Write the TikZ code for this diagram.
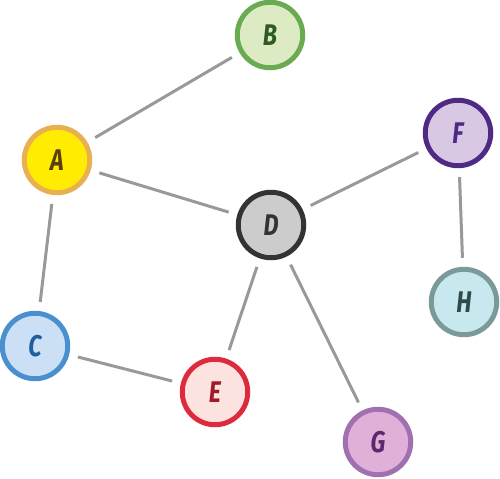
\documentclass[tikz,border=0pt]{standalone}
\usepackage{fontspec}
\newfontfamily\lblfont[FakeStretch=0.78]{Fira Sans}
\definecolor{edgegray}{HTML}{999999}
\begin{document}
\begin{tikzpicture}[x=0.02cm,y=-0.02cm,
  vert/.style={circle,line width=0.1cm,minimum size=1.31cm,inner sep=0pt,
    font=\lblfont\bfseries\itshape\fontsize{17}{17}\selectfont},
  link/.style={draw=edgegray,line width=0.06cm,shorten <=0.18cm,shorten >=0.18cm}]
\useasboundingbox (0,0) rectangle (500,479);
\node[vert,draw={rgb,255:red,232;green,176;blue,80},fill={rgb,255:red,255;green,236;blue,0},text={rgb,255:red,90;green,64;blue,16}] (A) at (57,160) {A};
\node[vert,draw={rgb,255:red,106;green,170;blue,80},fill={rgb,255:red,220;green,235;blue,196},text={rgb,255:red,47;green,90;blue,32}] (B) at (270,35) {B};
\node[vert,draw={rgb,255:red,74;green,143;blue,208},fill={rgb,255:red,204;green,224;blue,245},text={rgb,255:red,31;green,95;blue,159}] (C) at (35,346) {C};
\node[vert,draw={rgb,255:red,51;green,51;blue,51},fill={rgb,255:red,204;green,204;blue,204},text={rgb,255:red,51;green,51;blue,51}] (D) at (271,225) {D};
\node[vert,draw={rgb,255:red,221;green,42;blue,60},fill={rgb,255:red,253;green,227;blue,224},text={rgb,255:red,160;green,26;blue,42}] (E) at (215,392) {E};
\node[vert,draw={rgb,255:red,78;green,42;blue,132},fill={rgb,255:red,217;green,200;blue,227},text={rgb,255:red,78;green,42;blue,132}] (F) at (458,133) {F};
\node[vert,draw={rgb,255:red,160;green,112;blue,176},fill={rgb,255:red,224;green,176;blue,216},text={rgb,255:red,90;green,42;blue,106}] (G) at (378,442) {G};
\node[vert,draw={rgb,255:red,122;green,154;blue,154},fill={rgb,255:red,200;green,232;blue,240},text={rgb,255:red,47;green,74;blue,74}] (H) at (464,302) {H};
\draw[link] (A) -- (B);
\draw[link] (A) -- (D);
\draw[link] (A) -- (C);
\draw[link] (C) -- (E);
\draw[link] (D) -- (E);
\draw[link] (D) -- (G);
\draw[link] (D) -- (F);
\draw[link] (F) -- (H);
\end{tikzpicture}
\end{document}
